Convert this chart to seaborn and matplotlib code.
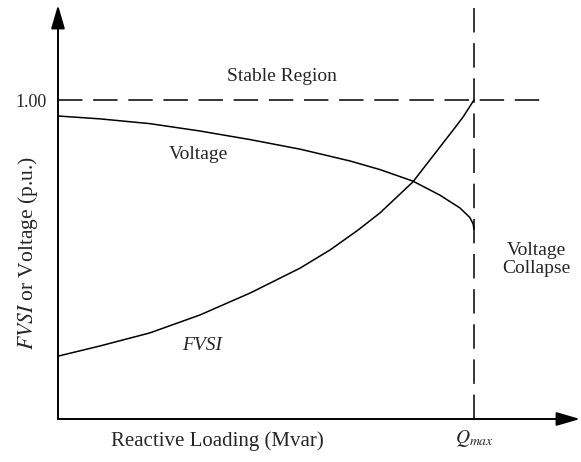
import matplotlib
matplotlib.use("Agg")
import matplotlib.pyplot as plt
import seaborn as sns

# Data (x: reactive loading, Qmax = 1.0)
voltage_x = [0.0, 0.101, 0.221, 0.341, 0.462, 0.582, 0.702, 0.774, 0.853, 0.918, 0.966, 0.990, 0.998, 1.0]
voltage_y = [0.950, 0.941, 0.926, 0.903, 0.876, 0.846, 0.809, 0.782, 0.746, 0.702, 0.662, 0.632, 0.612, 0.595]
fvsi_x = [0.0, 0.101, 0.221, 0.341, 0.462, 0.582, 0.654, 0.721, 0.774, 0.853, 0.950, 0.974, 1.0]
fvsi_y = [0.197, 0.229, 0.270, 0.326, 0.395, 0.473, 0.530, 0.592, 0.646, 0.743, 0.906, 0.947, 1.0]
qmax = 1.0
ytick_vals = [1.0]
ytick_labels = ["1.00"]

sns.set_theme(style="white")
plt.rcParams['font.family'] = ['Liberation Serif', 'DejaVu Serif']
plt.rcParams['mathtext.fontset'] = 'stix'

W, H = 581, 462
fig = plt.figure(figsize=(W / 100, H / 100), dpi=100)
ax = fig.add_axes([58 / W, (H - 419) / H, (580 - 58) / W, (419 - 5) / H])
ax.set_xlim(0, 1.255)
ax.set_ylim(0, 1.298)

sns.lineplot(x=voltage_x, y=voltage_y, sort=False, color="black", lw=1.1, ax=ax)
sns.lineplot(x=fvsi_x, y=fvsi_y, sort=False, color="black", lw=1.1, ax=ax)

ax.plot([0, 1.159], [1.0, 1.0], color="black", lw=1.1, dashes=(16, 7))
ax.plot([qmax, qmax], [0, 1.31], color="black", lw=1.1, dashes=(16, 7), clip_on=False)

for s in ["top", "right", "left", "bottom"]:
    ax.spines[s].set_visible(False)

arrow = dict(arrowstyle="-|>,head_length=1.2,head_width=0.35", color="black", lw=1.4,
             shrinkA=0, shrinkB=0)
ax.annotate("", xy=(0, 1), xytext=(0, 0), xycoords="axes fraction", arrowprops=arrow)
ax.annotate("", xy=(1, 0), xytext=(0, 0), xycoords="axes fraction", arrowprops=arrow)

ax.set_xticks([])
ax.set_yticks(ytick_vals)
ax.set_yticklabels(ytick_labels, fontsize=13)
ax.tick_params(axis="y", length=0, pad=8)

ax.set_xlabel("Reactive Loading (Mvar)", fontsize=15)
ax.xaxis.set_label_coords(0.305, -0.03)
ax.xaxis.label.set_va("top")
ax.set_ylabel(r"$\mathit{FVSI}$ or Voltage (p.u.)", fontsize=15.5)
ax.yaxis.set_label_coords(-0.057, 0.40)
ax.yaxis.label.set_va("center")

ax.text(0.539, 1.074, "Stable Region", fontsize=14, ha="center", va="center")
ax.text(0.337, 0.83, "Voltage", fontsize=14, ha="center", va="center")
ax.text(0.346, 0.232, "FVSI", fontsize=14, ha="center", va="center", style="italic")
ax.text(1.151, 0.5, "Voltage\nCollapse", fontsize=14, ha="center", va="center", linespacing=1.1)
ax.text(qmax, -0.06, r"$Q_{max}$", fontsize=14, ha="center", va="center")

fig.savefig("out.png", dpi=100)
